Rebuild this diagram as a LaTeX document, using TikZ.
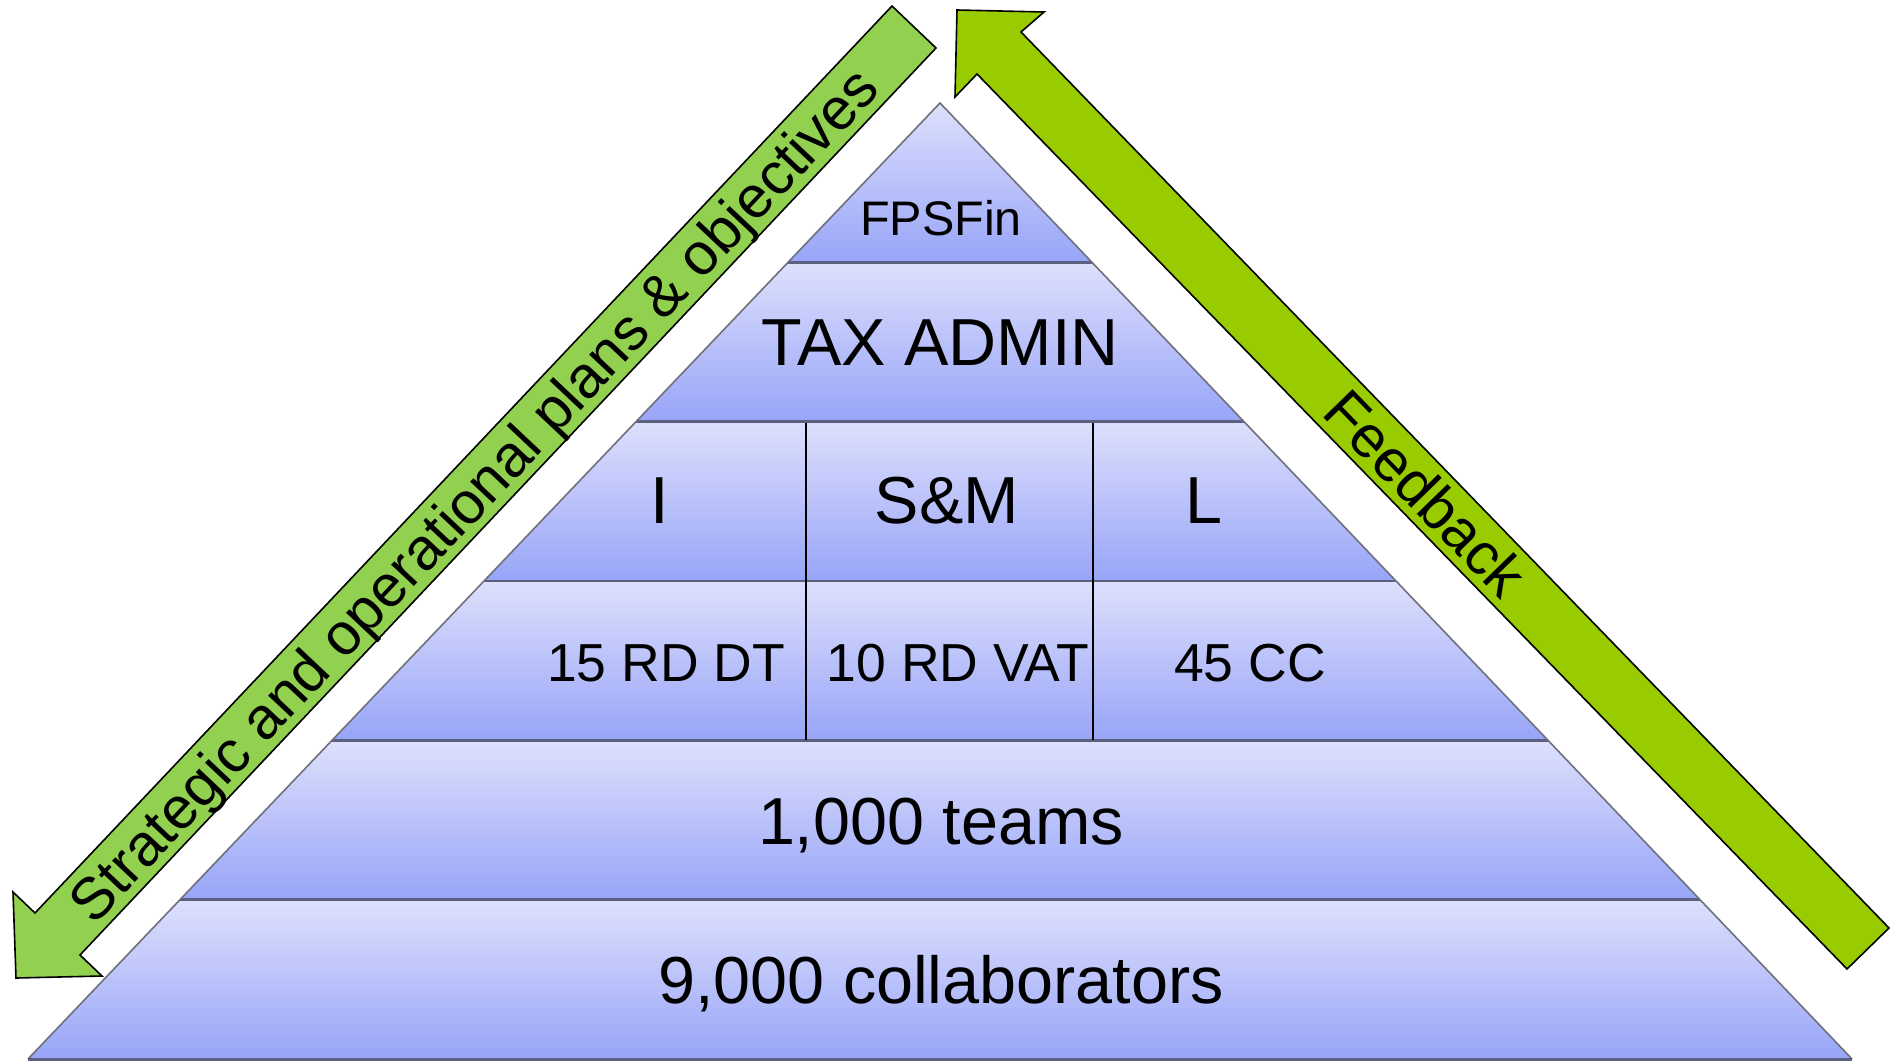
\documentclass[tikz,border=0pt]{standalone}
\usepackage{fontspec}
\setmainfont{Liberation Sans}
\definecolor{laytop}{HTML}{DDE0FC}
\definecolor{laybot}{HTML}{98A4F8}
\definecolor{sepline}{HTML}{5B6080}
\definecolor{edgegray}{HTML}{6E707C}
\definecolor{downgreen}{HTML}{92D050}
\definecolor{upgreen}{HTML}{99CC00}
\tikzset{
  layer/.style={top color=laytop, bottom color=laybot, draw=none},
  sep/.style={draw=sepline, line width=2.5pt},
  divider/.style={draw=black, line width=2.5pt},
  outline/.style={draw=edgegray, line width=1.6pt, line join=miter},
  bigarrow/.style={draw=black, line width=1.6pt, line join=miter},
  lblbig/.style={font=\fontsize{66.5}{80}\selectfont, inner sep=0pt, text height=47.6pt, text depth=0pt, anchor=center},
  lblmid/.style={font=\fontsize{53.5}{64}\selectfont, inner sep=0pt, text height=38.3pt, text depth=0pt, anchor=center},
  lbltop/.style={font=\fontsize{48.5}{58}\selectfont, inner sep=0pt, text height=34.7pt, text depth=0pt, anchor=center},
  lblarrow/.style={font=\fontsize{59}{70}\selectfont, inner sep=0pt, text height=42.2pt, text depth=0pt, anchor=center},
}
\begin{document}
\begin{tikzpicture}[x=1pt,y=-1pt]
\useasboundingbox (0,0) rectangle (1894,1063);
% pyramid layers
\shade[layer] (940,103) -- (1092,262.33) -- (788,262.33) -- cycle;
\shade[layer] (788,262.33) -- (1092,262.33) -- (1244,421.67) -- (636,421.67) -- cycle;
\shade[layer] (636,421.67) -- (1244,421.67) -- (1396,581) -- (484,581) -- cycle;
\shade[layer] (484,581) -- (1396,581) -- (1548,740.33) -- (332,740.33) -- cycle;
\shade[layer] (332,740.33) -- (1548,740.33) -- (1700,899.67) -- (180,899.67) -- cycle;
\shade[layer] (180,899.67) -- (1700,899.67) -- (1852,1059) -- (28,1059) -- cycle;
% separators
\draw[sep] (788,262.33) -- (1092,262.33);
\draw[sep] (636,421.67) -- (1244,421.67);
\draw[sep] (484,581) -- (1396,581);
\draw[sep] (332,740.33) -- (1548,740.33);
\draw[sep] (180,899.67) -- (1700,899.67);
% dividers
\draw[divider] (806,423) -- (806,740.33);
\draw[divider] (1093,423) -- (1093,740.33);
% outline
\draw[outline] (28,1059) -- (940,103) -- (1852,1059);
\draw[draw=sepline, line width=3pt] (28,1059.5) -- (1852,1059.5);
% labels
\node[lbltop] (fps) at (941,218) {FPSFin};
\node[lblbig] (tax) at (940,342) {TAX ADMIN};
\node[lblbig] (li) at (660,500) {I};
\node[lblbig] (lsm) at (947,500) {S\&M};
\node[lblbig] (ll) at (1204,500) {L};
\node[lblmid] (rd1) at (666,662) {15 RD DT};
\node[lblmid] (rd2) at (958,662) {10 RD VAT};
\node[lblmid] (cc) at (1250,662) {45 CC};
\node[lblbig] (teams) at (941,821) {1,000 teams};
\node[lblbig] (collab) at (941,980) {9,000 collaborators};
% left arrow (down)
\draw[bigarrow, fill=downgreen] (892,6) -- (35,913) -- (13,892) -- (16,978) -- (102,976) -- (80,955) -- (936,48) -- cycle;
\node[lblarrow, rotate=46.7] (plans) at (473,494) {Strategic and operational plans \& objectives};
% right arrow (up)
\draw[bigarrow, fill=upgreen] (957,10) -- (1044,12) -- (1021,32) -- (1889,928) -- (1847,969) -- (977,74) -- (955,97) -- cycle;
\node[lblarrow, rotate=-45.8] (feedback) at (1426,493) {Feedback};
\end{tikzpicture}
\end{document}
